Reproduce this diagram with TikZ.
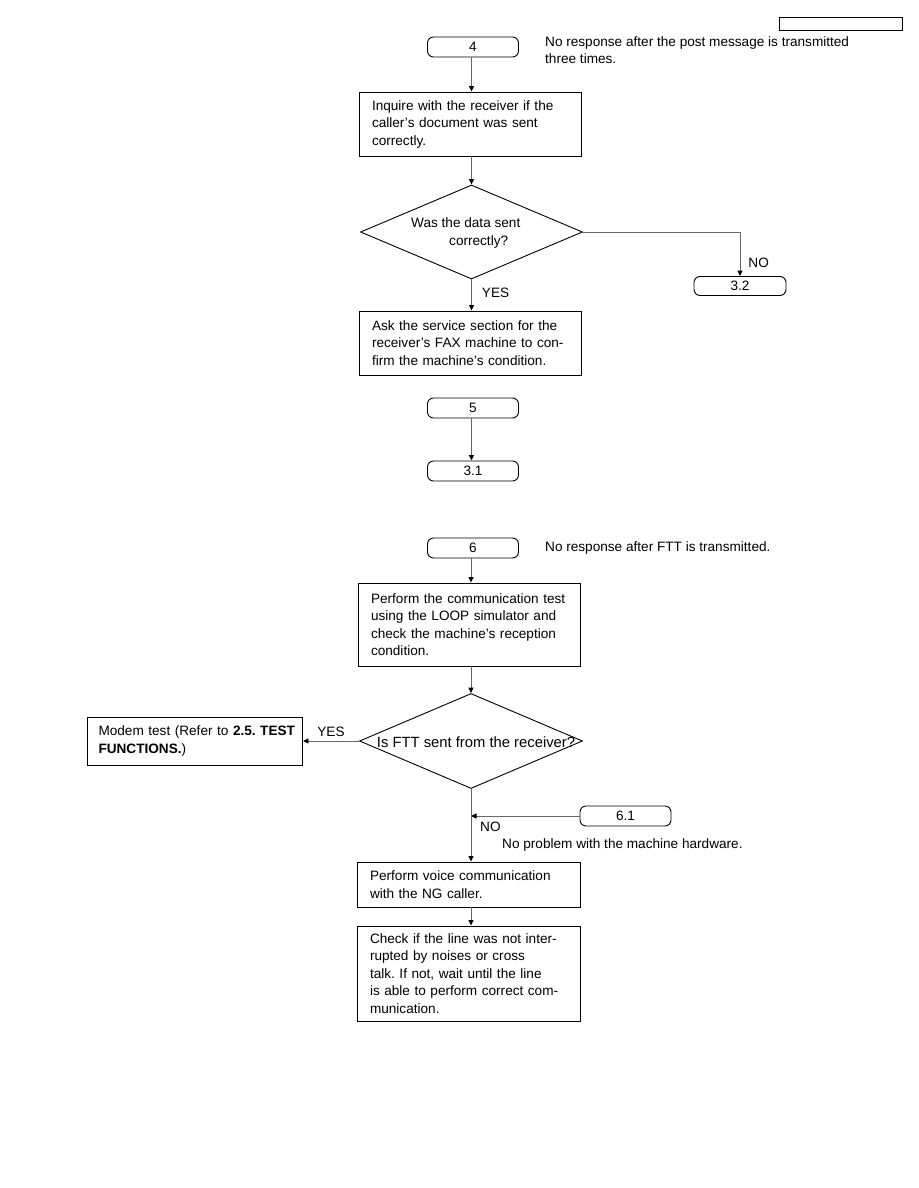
\documentclass[tikz,border=0pt]{standalone}
\usepackage{fontspec}
\setmainfont{Liberation Sans}
\usetikzlibrary{arrows.meta, positioning, shapes.geometric}
\frenchspacing

\begin{document}
\begin{tikzpicture}[
    x=1pt, y=-1pt,
    every node/.style={font=\fontsize{13.6}{17.5}\selectfont},
    block/.style={rectangle, draw, line width=0.9pt, align=left, inner xsep=13pt, text width=196pt, minimum width=222pt},
    term/.style={rectangle, draw, line width=0.9pt, rounded corners=6pt, minimum width=91pt, minimum height=20pt, inner sep=0pt},
    decision/.style={diamond, draw, line width=0.9pt, aspect=2.36, minimum width=222pt, minimum height=94pt, inner sep=0pt},
    note/.style={anchor=west, align=left, inner sep=0pt},
    arrow/.style={-{Triangle[length=5.5pt, width=5pt, black]}, line width=0.9pt, draw=black!60}
]
\useasboundingbox (0,0) rectangle (918,1188);

\coordinate (c_term4) at (473,47);
\coordinate (c_inquire) at (470,124);
\coordinate (c_sent) at (471.5,232);
\coordinate (c_term32) at (740,286);
\coordinate (c_service) at (470,343);
\coordinate (c_term5) at (473,408);
\coordinate (c_term31) at (473,471);
\coordinate (c_term6) at (473,548);
\coordinate (c_loop) at (469,624.5);
\coordinate (c_ftt) at (471,741);
\coordinate (c_modem) at (195,741);
\coordinate (c_term61) at (625.5,816);
\coordinate (c_voice) at (468.5,884.5);
\coordinate (c_line) at (468.5,973.5);


\node[draw, line width=0.9pt, minimum width=123pt, minimum height=13pt, inner sep=0pt] (header_box) at (840.5,23.5) {};

% upper part
\node[term] (term4) at (c_term4) {4};
\node[note] (note4) at (545,50) {No response after the post message is transmitted\\three times.};
\node[block, minimum height=64pt] (inquire) at (c_inquire) {Inquire with the receiver if the\\caller's document was sent\\correctly.};
\node[decision] (sent) at (c_sent) {};
\node[note] (sent_text) at (411,233) {Was the data sent\\\hspace*{38pt}correctly?};
\node[term, minimum width=92pt, minimum height=19pt] (term32) at (c_term32) {3.2};
\node[block, minimum height=64pt] (service) at (c_service) {Ask the service section for the\\receiver's FAX machine to con-\\firm the machine's condition.};
\node[term] (term5) at (c_term5) {5};
\node[term] (term31) at (c_term31) {3.1};

\draw[arrow] (sent.north |- term4.south) -- (sent.north |- inquire.north);
\draw[arrow] (sent.north |- inquire.south) -- (sent.north);
\draw[arrow] (sent.east) -| (term32.north) node[pos=0.85, right=8pt, inner sep=0pt] {NO};
\draw[arrow] (sent.south) -- (sent.south |- service.north) node[midway, right=10pt, yshift=2pt, inner sep=0pt] {YES};
\draw[arrow] (sent.north |- term5.south) -- (sent.north |- term31.north);

% lower part
\node[term] (term6) at (c_term6) {6};
\node[note] (note6) at (545,548) {No response after FTT is transmitted.};
\node[block, minimum height=83pt] (loop) at (c_loop) {Perform the communication test\\using the LOOP simulator and\\check the machine's reception\\condition.};
\node[decision, minimum width=223pt, minimum height=95pt] (ftt) at (c_ftt) {};
\node[inner sep=0pt, font=\fontsize{14.8}{17.5}\selectfont] (ftt_text) at (476,742) {Is FTT sent from the receiver?};
\node[block, inner xsep=11pt, text width=193pt, minimum width=215pt, minimum height=48pt] (modem) at (c_modem) {\mbox{Modem test (Refer to \textbf{2.5. TEST}}\\\textbf{FUNCTIONS.})};
\node[term] (term61) at (c_term61) {6.1};
\node[block, minimum width=223pt, text width=197pt, minimum height=45pt] (voice) at (c_voice) {Perform voice communication\\with the NG caller.};
\node[block, minimum width=223pt, text width=197pt, minimum height=95pt] (line) at (c_line) {Check if the line was not inter-\\rupted by noises or cross\\talk. If not, wait until the line\\is able to perform correct com-\\munication.};

\coordinate (join61) at (ftt.south |- term61.west);

\draw[arrow] (ftt.north |- term6.south) -- (ftt.north |- loop.north);
\draw[arrow] (ftt.north |- loop.south) -- (ftt.north);
\draw[arrow] (ftt.west) -- (ftt.west -| modem.east) node[midway, above=4pt, inner sep=0pt] {YES};
\draw[arrow] (ftt.south) -- (ftt.south |- voice.north);
\draw[arrow] (term61.west) -- (join61);
\node[anchor=north west, inner sep=0pt] (no_label) at ([xshift=9pt, yshift=-6pt]join61) {NO};
\node[note] (note61) at (502,845) {No problem with the machine hardware.};
\draw[arrow] (ftt.south |- voice.south) -- (ftt.south |- line.north);

\end{tikzpicture}
\end{document}
